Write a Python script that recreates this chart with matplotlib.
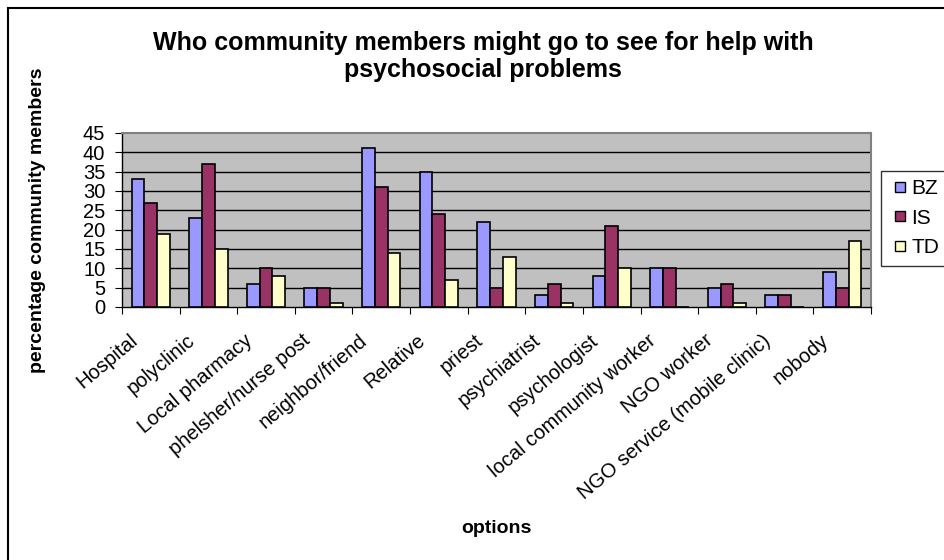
import numpy as np
import matplotlib
matplotlib.use("Agg")
import matplotlib.pyplot as plt
from matplotlib.patches import Rectangle
from matplotlib.lines import Line2D
from matplotlib.transforms import ScaledTranslation

plt.rcParams['font.family'] = ['Liberation Sans', 'DejaVu Sans']

options = ["Hospital", "polyclinic", "Local pharmacy", "phelsher/nurse post",
           "neighbor/friend", "Relative", "priest", "psychiatrist",
           "psychologist", "local community worker", "NGO worker",
           "NGO service (mobile clinic)", "nobody"]
bz = [33, 23, 6, 5, 41, 35, 22, 3, 8, 10, 5, 3, 9]
is_ = [27, 37, 10, 5, 31, 24, 5, 6, 21, 10, 6, 3, 5]
td = [19, 15, 8, 1, 14, 7, 13, 1, 10, 0, 1, 0, 17]
series = [("BZ", bz, "#9999FF"), ("IS", is_, "#993366"), ("TD", td, "#FFFFCC")]

fig = plt.figure(figsize=(9.45, 5.6), dpi=100)

# chart-area frame (runs off the right and bottom edges)
fig.patches.append(Rectangle((8 / 945, -0.1), 1.2, 1 - 8 / 560 + 0.1,
                             transform=fig.transFigure, fill=False,
                             edgecolor="black", linewidth=1.5))

ax = fig.add_axes([122 / 945, 1 - 307 / 560, 749 / 945, 174 / 560])
ax.set_facecolor("#C0C0C0")

x = np.arange(len(options))
w = 1 / 4.5
for i, (name, vals, col) in enumerate(series):
    ax.bar(x + (i - 1) * w, vals, width=w, color=col, edgecolor="black",
           linewidth=1.2, label=name, zorder=3)

ax.set_xlim(-0.5, len(options) - 0.5)
ax.set_ylim(0, 45)
ax.set_yticks(range(0, 46, 5))
ax.tick_params(axis="y", labelsize=14.5, length=5, direction="out", pad=7)
for yv in range(5, 45, 5):
    ax.axhline(yv, color="black", linewidth=1, zorder=1)

# category boundaries carry the tick marks, labels sit at centres
ax.set_xticks(np.arange(-0.5, len(options), 1))
ax.set_xticklabels([])
ax.tick_params(axis="x", which="major", length=5, direction="out")
ax.set_xticks(x, minor=True)
ax.set_xticklabels(options, minor=True, rotation=40, ha="right",
                   va="top", fontsize=14.5)
ax.tick_params(axis="x", which="minor", length=0, pad=15)
shift = ScaledTranslation(-10 / 100, -3 / 100, fig.dpi_scale_trans)
for lab in ax.get_xticklabels(minor=True):
    lab.set_transform(lab.get_transform() + shift)

for s in ("top", "right"):
    ax.spines[s].set_color("#808080")
    ax.spines[s].set_linewidth(1.5)
for s in ("left", "bottom"):
    ax.spines[s].set_color("black")
    ax.spines[s].set_linewidth(1)

fig.text(0.511, 0.899, "Who community members might go to see for help with\npsychosocial problems",
         ha="center", va="center", fontsize=18, fontweight="bold", linespacing=1.16)
fig.text(0.040, 0.607, "percentage community members", rotation=90,
         ha="center", va="center", fontsize=14, fontweight="bold")
fig.text(0.525, 0.057, "options", ha="center", va="center",
         fontsize=14, fontweight="bold")

handles = [Line2D([], [], marker="s", linestyle="", markersize=6.5,
                  markerfacecolor=col, markeredgecolor="black", markeredgewidth=1)
           for _, _, col in series]
leg = fig.legend(handles, [s[0] for s in series], loc="upper left",
                 bbox_to_anchor=(881 / 945, 1 - 171 / 560),
                 frameon=True, fancybox=False, edgecolor="black",
                 fontsize=15, handlelength=1.0, handletextpad=0.05,
                 borderpad=0.4, labelspacing=0.5, borderaxespad=0)
leg.get_frame().set_linewidth(1)

fig.savefig("out.png", dpi=100)
